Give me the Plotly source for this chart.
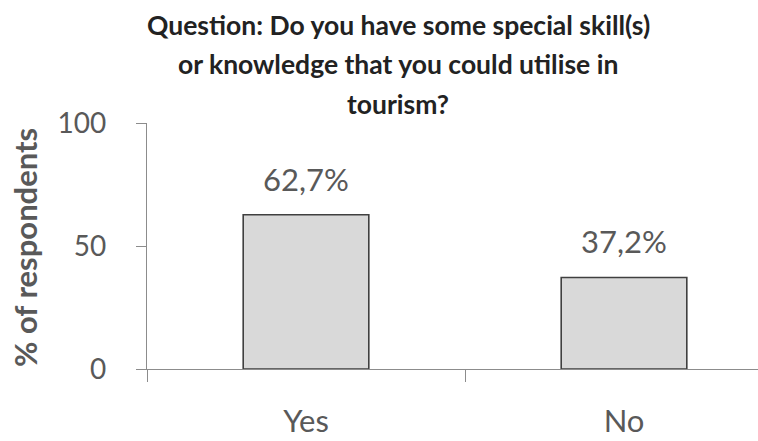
import plotly.graph_objects as go

# Survey answers and their share of respondents (%)
categories = ["Yes", "No"]
shares = [62.7, 37.2]
share_labels = ["62,7%", "37,2%"]
y_ticks = [0, 50, 100]

title_lines = [
    "Question: Do you have some special skill(s)",
    "or knowledge that you could utilise in",
    "tourism?",
]

W, H = 758, 441
L, R, T, B = 147, 0, 123, 72
plot_w = W - L - R
plot_h = H - T - B
cat_px = 318  # pixels per category slot

FONT = "Lato"
GREY_TXT = "#595959"
AXIS_COL = "#8c8c8c"

fig = go.Figure(
    go.Bar(
        x=categories,
        y=shares,
        width=0.395,
        marker=dict(color="#d9d9d9", line=dict(color="#404040", width=1.6)),
        hoverinfo="skip",
    )
)

# value labels sitting above each bar
for c, v, lab in zip(categories, shares, share_labels):
    fig.add_annotation(
        x=c, y=v, text=lab, showarrow=False, xref="x", yref="y",
        yanchor="bottom", yshift=15,
        font=dict(family=FONT, size=31, color=GREY_TXT),
    )

# multi-line bold title, placed from figure-pixel positions
title_cx = 398
title_y = [25, 64, 104]
for line, py in zip(title_lines, title_y):
    fig.add_annotation(
        x=(title_cx - L) / plot_w, y=(H - B - py) / plot_h,
        xref="paper", yref="paper",
        xanchor="center", yanchor="middle", showarrow=False,
        text=f"<b>{line}</b>",
        font=dict(family=FONT, size=26.5, color="#222222"),
    )

# y-axis title
fig.add_annotation(
    x=-(L - 25) / plot_w, y=(H - B - 248) / plot_h,
    xref="paper", yref="paper", xanchor="center", yanchor="middle",
    textangle=-90, showarrow=False,
    text="<b>% of respondents</b>",
    font=dict(family=FONT, size=31, color=GREY_TXT),
)

fig.update_layout(
    width=W, height=H,
    margin=dict(l=L, r=R, t=T, b=B, pad=0),
    paper_bgcolor="white", plot_bgcolor="white",
    showlegend=False,
    font=dict(family=FONT, color=GREY_TXT),
    xaxis=dict(
        type="category",
        range=[-0.5, -0.5 + plot_w / cat_px],
        showline=True, linecolor=AXIS_COL, linewidth=1.3,
        ticks="outside", tickson="boundaries", ticklen=12,
        tickcolor=AXIS_COL, tickwidth=1.3,
        ticklabelstandoff=25,
        tickfont=dict(family=FONT, size=31, color=GREY_TXT),
        showgrid=False, zeroline=False,
    ),
    yaxis=dict(
        range=[0, 100],
        tickvals=y_ticks,
        showline=True, linecolor=AXIS_COL, linewidth=1.3,
        ticks="outside", ticklen=10, tickcolor=AXIS_COL, tickwidth=1.3,
        ticklabelstandoff=24,
        tickfont=dict(family=FONT, size=28, color=GREY_TXT),
        showgrid=False, zeroline=False,
    ),
)

fig.write_html("out.html")
